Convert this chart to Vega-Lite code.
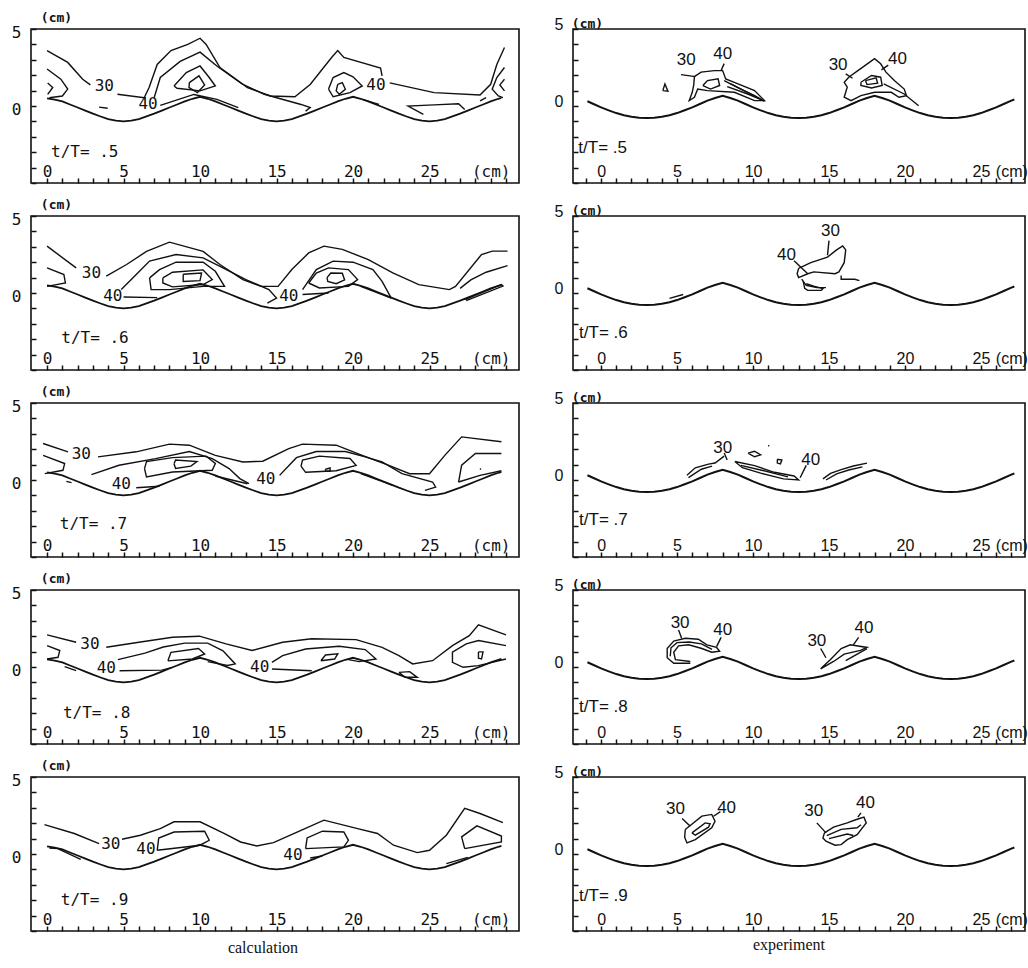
{
"$schema":"https://vega.github.io/schema/vega-lite/v6.json",
"background":"white",
"padding":{"left":10,"top":10,"right":2,"bottom":2},
"bounds":"flush",
"columns":2,
"spacing":{"row":33,"column":54},
"concat":[
 {"width":488,"height":154,
  "encoding":{"x":{"field":"x","type":"quantitative","scale":{"domain":[-1.05,30.85],"nice":false,"zero":false},"axis":{"values":[0,1,2,3,4,5,6,7,8,9,10,11,12,13,14,15,16,17,18,19,20,21,22,23,24,25,26,27,28,29,30],"title":null,"labelExpr":"datum.value%5==0 && datum.value<=25 ? datum.label : (datum.value==29 ? '(cm)' : '')"}},
   "y":{"field":"y","type":"quantitative","scale":{"domain":[-5,5],"nice":false,"zero":false},"axis":{"values":[-5,-4,-3,-2,-1,0,1,2,3,4,5],"labelExpr":"datum.value==5||datum.value==0 ? datum.label : ''","title":"(cm)","titleAngle":0,"titleX":25,"titleY":-12,"titleAlign":"center","titleBaseline":"middle"}}},
  "layer":[
   {"data":{"name":"bedC"},"mark":{"type":"line","strokeWidth":1.8},"encoding":{}},
   {"data":{"name":"c5"},"mark":{"type":"line"},"encoding":{"detail":{"field":"i"},"order":{"value":null}}},
   {"data":{"name":"lab"},"transform":[{"filter":"datum.p=='c5'"}],"mark":{"type":"text","font":"DejaVu Sans Mono","fontSize":16,"align":"center","baseline":"middle"},"encoding":{"text":{"field":"t"}}},
   {"data":{"name":"tt"},"transform":[{"filter":"datum.p=='c5'"}],"mark":{"type":"text","font":"DejaVu Sans Mono","fontSize":16,"align":"left","baseline":"middle"},"encoding":{"text":{"field":"t"}}}
  ]},
 {"width":452,"height":154,
  "encoding":{"x":{"field":"x","type":"quantitative","scale":{"domain":[-1.85,27.9],"nice":false,"zero":false},"axis":{"values":[-1,0,1,2,3,4,5,6,7,8,9,10,11,12,13,14,15,16,17,18,19,20,21,22,23,24,25,26,27],"title":null,"labelFont":"Liberation Sans","labelExpr":"datum.value%5==0 && datum.value>=0 && datum.value<=25 ? datum.label : (datum.value==27 ? '(cm)' : '')"}},
   "y":{"field":"y","type":"quantitative","scale":{"domain":[-5,5],"nice":false,"zero":false},"axis":{"values":[-5,-4,-3,-2,-1,0,1,2,3,4,5],"labelFont":"Liberation Sans","labelOffset":-5,"labelExpr":"datum.value==5||datum.value==0 ? datum.label : ''","title":"(cm)","titleAngle":0,"titleX":14,"titleY":-6,"titleAlign":"center","titleBaseline":"middle"}}},
  "layer":[
   {"data":{"name":"bedE"},"mark":{"type":"line","strokeWidth":2},"encoding":{}},
   {"data":{"name":"e5"},"mark":{"type":"line","strokeWidth":1.4},"encoding":{"detail":{"field":"i"},"order":{"value":null}}},
   {"data":{"name":"lab"},"transform":[{"filter":"datum.p=='e5'"}],"mark":{"type":"text","font":"Liberation Sans","fontSize":17,"align":"center","baseline":"middle"},"encoding":{"text":{"field":"t"}}},
   {"data":{"name":"tt"},"transform":[{"filter":"datum.p=='e5'"}],"mark":{"type":"text","font":"Liberation Sans","fontSize":17,"align":"left","baseline":"middle"},"encoding":{"text":{"field":"t"}}}
  ]},
 {"width":488,"height":154,
  "encoding":{"x":{"field":"x","type":"quantitative","scale":{"domain":[-1.05,30.85],"nice":false,"zero":false},"axis":{"values":[0,1,2,3,4,5,6,7,8,9,10,11,12,13,14,15,16,17,18,19,20,21,22,23,24,25,26,27,28,29,30],"title":null,"labelExpr":"datum.value%5==0 && datum.value<=25 ? datum.label : (datum.value==29 ? '(cm)' : '')"}},
   "y":{"field":"y","type":"quantitative","scale":{"domain":[-5,5],"nice":false,"zero":false},"axis":{"values":[-5,-4,-3,-2,-1,0,1,2,3,4,5],"labelExpr":"datum.value==5||datum.value==0 ? datum.label : ''","title":"(cm)","titleAngle":0,"titleX":25,"titleY":-12,"titleAlign":"center","titleBaseline":"middle"}}},
  "layer":[
   {"data":{"name":"bedC"},"mark":{"type":"line","strokeWidth":1.8},"encoding":{}},
   {"data":{"name":"c6"},"mark":{"type":"line"},"encoding":{"detail":{"field":"i"},"order":{"value":null}}},
   {"data":{"name":"lab"},"transform":[{"filter":"datum.p=='c6'"}],"mark":{"type":"text","font":"DejaVu Sans Mono","fontSize":16,"align":"center","baseline":"middle"},"encoding":{"text":{"field":"t"}}},
   {"data":{"name":"tt"},"transform":[{"filter":"datum.p=='c6'"}],"mark":{"type":"text","font":"DejaVu Sans Mono","fontSize":16,"align":"left","baseline":"middle"},"encoding":{"text":{"field":"t"}}}
  ]},
 {"width":452,"height":154,
  "encoding":{"x":{"field":"x","type":"quantitative","scale":{"domain":[-1.85,27.9],"nice":false,"zero":false},"axis":{"values":[-1,0,1,2,3,4,5,6,7,8,9,10,11,12,13,14,15,16,17,18,19,20,21,22,23,24,25,26,27],"title":null,"labelFont":"Liberation Sans","labelExpr":"datum.value%5==0 && datum.value>=0 && datum.value<=25 ? datum.label : (datum.value==27 ? '(cm)' : '')"}},
   "y":{"field":"y","type":"quantitative","scale":{"domain":[-5,5],"nice":false,"zero":false},"axis":{"values":[-5,-4,-3,-2,-1,0,1,2,3,4,5],"labelFont":"Liberation Sans","labelOffset":-5,"labelExpr":"datum.value==5||datum.value==0 ? datum.label : ''","title":"(cm)","titleAngle":0,"titleX":14,"titleY":-6,"titleAlign":"center","titleBaseline":"middle"}}},
  "layer":[
   {"data":{"name":"bedE"},"mark":{"type":"line","strokeWidth":2},"encoding":{}},
   {"data":{"name":"e6"},"mark":{"type":"line","strokeWidth":1.4},"encoding":{"detail":{"field":"i"},"order":{"value":null}}},
   {"data":{"name":"lab"},"transform":[{"filter":"datum.p=='e6'"}],"mark":{"type":"text","font":"Liberation Sans","fontSize":17,"align":"center","baseline":"middle"},"encoding":{"text":{"field":"t"}}},
   {"data":{"name":"tt"},"transform":[{"filter":"datum.p=='e6'"}],"mark":{"type":"text","font":"Liberation Sans","fontSize":17,"align":"left","baseline":"middle"},"encoding":{"text":{"field":"t"}}}
  ]},
 {"width":488,"height":154,
  "encoding":{"x":{"field":"x","type":"quantitative","scale":{"domain":[-1.05,30.85],"nice":false,"zero":false},"axis":{"values":[0,1,2,3,4,5,6,7,8,9,10,11,12,13,14,15,16,17,18,19,20,21,22,23,24,25,26,27,28,29,30],"title":null,"labelExpr":"datum.value%5==0 && datum.value<=25 ? datum.label : (datum.value==29 ? '(cm)' : '')"}},
   "y":{"field":"y","type":"quantitative","scale":{"domain":[-5,5],"nice":false,"zero":false},"axis":{"values":[-5,-4,-3,-2,-1,0,1,2,3,4,5],"labelExpr":"datum.value==5||datum.value==0 ? datum.label : ''","title":"(cm)","titleAngle":0,"titleX":25,"titleY":-12,"titleAlign":"center","titleBaseline":"middle"}}},
  "layer":[
   {"data":{"name":"bedC"},"mark":{"type":"line","strokeWidth":1.8},"encoding":{}},
   {"data":{"name":"c7"},"mark":{"type":"line"},"encoding":{"detail":{"field":"i"},"order":{"value":null}}},
   {"data":{"name":"lab"},"transform":[{"filter":"datum.p=='c7'"}],"mark":{"type":"text","font":"DejaVu Sans Mono","fontSize":16,"align":"center","baseline":"middle"},"encoding":{"text":{"field":"t"}}},
   {"data":{"name":"tt"},"transform":[{"filter":"datum.p=='c7'"}],"mark":{"type":"text","font":"DejaVu Sans Mono","fontSize":16,"align":"left","baseline":"middle"},"encoding":{"text":{"field":"t"}}}
  ]},
 {"width":452,"height":154,
  "encoding":{"x":{"field":"x","type":"quantitative","scale":{"domain":[-1.85,27.9],"nice":false,"zero":false},"axis":{"values":[-1,0,1,2,3,4,5,6,7,8,9,10,11,12,13,14,15,16,17,18,19,20,21,22,23,24,25,26,27],"title":null,"labelFont":"Liberation Sans","labelExpr":"datum.value%5==0 && datum.value>=0 && datum.value<=25 ? datum.label : (datum.value==27 ? '(cm)' : '')"}},
   "y":{"field":"y","type":"quantitative","scale":{"domain":[-5,5],"nice":false,"zero":false},"axis":{"values":[-5,-4,-3,-2,-1,0,1,2,3,4,5],"labelFont":"Liberation Sans","labelOffset":-5,"labelExpr":"datum.value==5||datum.value==0 ? datum.label : ''","title":"(cm)","titleAngle":0,"titleX":14,"titleY":-6,"titleAlign":"center","titleBaseline":"middle"}}},
  "layer":[
   {"data":{"name":"bedE"},"mark":{"type":"line","strokeWidth":2},"encoding":{}},
   {"data":{"name":"e7"},"mark":{"type":"line","strokeWidth":1.4},"encoding":{"detail":{"field":"i"},"order":{"value":null}}},
   {"data":{"name":"lab"},"transform":[{"filter":"datum.p=='e7'"}],"mark":{"type":"text","font":"Liberation Sans","fontSize":17,"align":"center","baseline":"middle"},"encoding":{"text":{"field":"t"}}},
   {"data":{"name":"tt"},"transform":[{"filter":"datum.p=='e7'"}],"mark":{"type":"text","font":"Liberation Sans","fontSize":17,"align":"left","baseline":"middle"},"encoding":{"text":{"field":"t"}}}
  ]},
 {"width":488,"height":154,
  "encoding":{"x":{"field":"x","type":"quantitative","scale":{"domain":[-1.05,30.85],"nice":false,"zero":false},"axis":{"values":[0,1,2,3,4,5,6,7,8,9,10,11,12,13,14,15,16,17,18,19,20,21,22,23,24,25,26,27,28,29,30],"title":null,"labelExpr":"datum.value%5==0 && datum.value<=25 ? datum.label : (datum.value==29 ? '(cm)' : '')"}},
   "y":{"field":"y","type":"quantitative","scale":{"domain":[-5,5],"nice":false,"zero":false},"axis":{"values":[-5,-4,-3,-2,-1,0,1,2,3,4,5],"labelExpr":"datum.value==5||datum.value==0 ? datum.label : ''","title":"(cm)","titleAngle":0,"titleX":25,"titleY":-12,"titleAlign":"center","titleBaseline":"middle"}}},
  "layer":[
   {"data":{"name":"bedC"},"mark":{"type":"line","strokeWidth":1.8},"encoding":{}},
   {"data":{"name":"c8"},"mark":{"type":"line"},"encoding":{"detail":{"field":"i"},"order":{"value":null}}},
   {"data":{"name":"lab"},"transform":[{"filter":"datum.p=='c8'"}],"mark":{"type":"text","font":"DejaVu Sans Mono","fontSize":16,"align":"center","baseline":"middle"},"encoding":{"text":{"field":"t"}}},
   {"data":{"name":"tt"},"transform":[{"filter":"datum.p=='c8'"}],"mark":{"type":"text","font":"DejaVu Sans Mono","fontSize":16,"align":"left","baseline":"middle"},"encoding":{"text":{"field":"t"}}}
  ]},
 {"width":452,"height":154,
  "encoding":{"x":{"field":"x","type":"quantitative","scale":{"domain":[-1.85,27.9],"nice":false,"zero":false},"axis":{"values":[-1,0,1,2,3,4,5,6,7,8,9,10,11,12,13,14,15,16,17,18,19,20,21,22,23,24,25,26,27],"title":null,"labelFont":"Liberation Sans","labelExpr":"datum.value%5==0 && datum.value>=0 && datum.value<=25 ? datum.label : (datum.value==27 ? '(cm)' : '')"}},
   "y":{"field":"y","type":"quantitative","scale":{"domain":[-5,5],"nice":false,"zero":false},"axis":{"values":[-5,-4,-3,-2,-1,0,1,2,3,4,5],"labelFont":"Liberation Sans","labelOffset":-5,"labelExpr":"datum.value==5||datum.value==0 ? datum.label : ''","title":"(cm)","titleAngle":0,"titleX":14,"titleY":-6,"titleAlign":"center","titleBaseline":"middle"}}},
  "layer":[
   {"data":{"name":"bedE"},"mark":{"type":"line","strokeWidth":2},"encoding":{}},
   {"data":{"name":"e8"},"mark":{"type":"line","strokeWidth":1.4},"encoding":{"detail":{"field":"i"},"order":{"value":null}}},
   {"data":{"name":"lab"},"transform":[{"filter":"datum.p=='e8'"}],"mark":{"type":"text","font":"Liberation Sans","fontSize":17,"align":"center","baseline":"middle"},"encoding":{"text":{"field":"t"}}},
   {"data":{"name":"tt"},"transform":[{"filter":"datum.p=='e8'"}],"mark":{"type":"text","font":"Liberation Sans","fontSize":17,"align":"left","baseline":"middle"},"encoding":{"text":{"field":"t"}}}
  ]},
 {"width":488,"height":154,
  "title":{"text":"calculation","orient":"bottom","anchor":"middle","font":"Liberation Serif","fontSize":16,"fontWeight":"normal","color":"#111","offset":-2,"dx":-12},
  "encoding":{"x":{"field":"x","type":"quantitative","scale":{"domain":[-1.05,30.85],"nice":false,"zero":false},"axis":{"values":[0,1,2,3,4,5,6,7,8,9,10,11,12,13,14,15,16,17,18,19,20,21,22,23,24,25,26,27,28,29,30],"title":null,"labelExpr":"datum.value%5==0 && datum.value<=25 ? datum.label : (datum.value==29 ? '(cm)' : '')"}},
   "y":{"field":"y","type":"quantitative","scale":{"domain":[-5,5],"nice":false,"zero":false},"axis":{"values":[-5,-4,-3,-2,-1,0,1,2,3,4,5],"labelExpr":"datum.value==5||datum.value==0 ? datum.label : ''","title":"(cm)","titleAngle":0,"titleX":25,"titleY":-12,"titleAlign":"center","titleBaseline":"middle"}}},
  "layer":[
   {"data":{"name":"bedC"},"mark":{"type":"line","strokeWidth":1.8},"encoding":{}},
   {"data":{"name":"c9"},"mark":{"type":"line"},"encoding":{"detail":{"field":"i"},"order":{"value":null}}},
   {"data":{"name":"lab"},"transform":[{"filter":"datum.p=='c9'"}],"mark":{"type":"text","font":"DejaVu Sans Mono","fontSize":16,"align":"center","baseline":"middle"},"encoding":{"text":{"field":"t"}}},
   {"data":{"name":"tt"},"transform":[{"filter":"datum.p=='c9'"}],"mark":{"type":"text","font":"DejaVu Sans Mono","fontSize":16,"align":"left","baseline":"middle"},"encoding":{"text":{"field":"t"}}}
  ]},
 {"width":452,"height":154,
  "title":{"text":"experiment","orient":"bottom","anchor":"middle","font":"Liberation Serif","fontSize":16,"fontWeight":"normal","color":"#111","offset":3,"dx":-10},
  "encoding":{"x":{"field":"x","type":"quantitative","scale":{"domain":[-1.85,27.9],"nice":false,"zero":false},"axis":{"values":[-1,0,1,2,3,4,5,6,7,8,9,10,11,12,13,14,15,16,17,18,19,20,21,22,23,24,25,26,27],"title":null,"labelFont":"Liberation Sans","labelExpr":"datum.value%5==0 && datum.value>=0 && datum.value<=25 ? datum.label : (datum.value==27 ? '(cm)' : '')"}},
   "y":{"field":"y","type":"quantitative","scale":{"domain":[-5,5],"nice":false,"zero":false},"axis":{"values":[-5,-4,-3,-2,-1,0,1,2,3,4,5],"labelFont":"Liberation Sans","labelOffset":-5,"labelExpr":"datum.value==5||datum.value==0 ? datum.label : ''","title":"(cm)","titleAngle":0,"titleX":14,"titleY":-6,"titleAlign":"center","titleBaseline":"middle"}}},
  "layer":[
   {"data":{"name":"bedE"},"mark":{"type":"line","strokeWidth":2},"encoding":{}},
   {"data":{"name":"e9"},"mark":{"type":"line","strokeWidth":1.4},"encoding":{"detail":{"field":"i"},"order":{"value":null}}},
   {"data":{"name":"lab"},"transform":[{"filter":"datum.p=='e9'"}],"mark":{"type":"text","font":"Liberation Sans","fontSize":17,"align":"center","baseline":"middle"},"encoding":{"text":{"field":"t"}}},
   {"data":{"name":"tt"},"transform":[{"filter":"datum.p=='e9'"}],"mark":{"type":"text","font":"Liberation Sans","fontSize":17,"align":"left","baseline":"middle"},"encoding":{"text":{"field":"t"}}}
  ]}
],
"config":{
 "view":{"stroke":"#111","strokeWidth":1.6},
 "axis":{"grid":false,"domain":false,"ticks":true,"tickSize":-5,"tickColor":"#111","tickWidth":1.5,"labelColor":"#111","labelFont":"DejaVu Sans Mono","labelFontSize":16,"labelOverlap":false,"labelFlush":false,"titleFont":"DejaVu Sans Mono","titleFontSize":13,"titleFontWeight":"bold","titleColor":"#111"},
 "axisX":{"labelPadding":-15},
 "axisY":{"labelPadding":15,"labelOffset":3},
 "line":{"color":"#111","strokeWidth":1.4},
 "text":{"color":"#111"}
},
"datasets":{
"bedC":[{"x":0,"y":0.5},{"x":0.5,"y":0.42},{"x":1,"y":0.3},{"x":1.5,"y":0.1},{"x":2,"y":-0.1},{"x":2.5,"y":-0.3},{"x":3,"y":-0.5},{"x":3.5,"y":-0.68},{"x":4,"y":-0.85},{"x":4.5,"y":-0.95},{"x":5,"y":-1},{"x":5.5,"y":-0.95},{"x":6,"y":-0.85},{"x":6.5,"y":-0.68},{"x":7,"y":-0.5},{"x":7.5,"y":-0.3},{"x":8,"y":-0.1},{"x":8.5,"y":0.1},{"x":9,"y":0.3},{"x":9.5,"y":0.47},{"x":10,"y":0.6},{"x":10.5,"y":0.47},{"x":11,"y":0.3},{"x":11.5,"y":0.1},{"x":12,"y":-0.1},{"x":12.5,"y":-0.3},{"x":13,"y":-0.5},{"x":13.5,"y":-0.68},{"x":14,"y":-0.85},{"x":14.5,"y":-0.95},{"x":15,"y":-1},{"x":15.5,"y":-0.95},{"x":16,"y":-0.85},{"x":16.5,"y":-0.68},{"x":17,"y":-0.5},{"x":17.5,"y":-0.3},{"x":18,"y":-0.1},{"x":18.5,"y":0.1},{"x":19,"y":0.3},{"x":19.5,"y":0.47},{"x":20,"y":0.6},{"x":20.5,"y":0.47},{"x":21,"y":0.3},{"x":21.5,"y":0.1},{"x":22,"y":-0.1},{"x":22.5,"y":-0.3},{"x":23,"y":-0.5},{"x":23.5,"y":-0.68},{"x":24,"y":-0.85},{"x":24.5,"y":-0.95},{"x":25,"y":-1},{"x":25.5,"y":-0.95},{"x":26,"y":-0.85},{"x":26.5,"y":-0.68},{"x":27,"y":-0.5},{"x":27.5,"y":-0.3},{"x":28,"y":-0.1},{"x":28.5,"y":0.1},{"x":29,"y":0.3},{"x":29.5,"y":0.47},{"x":29.7,"y":0.52}],
"bedE":[{"x":-0.9,"y":0.31},{"x":-0.5,"y":0.13},{"x":0,"y":-0.09},{"x":0.5,"y":-0.28},{"x":1,"y":-0.46},{"x":1.5,"y":-0.6},{"x":2,"y":-0.7},{"x":2.5,"y":-0.76},{"x":3,"y":-0.78},{"x":3.5,"y":-0.76},{"x":4,"y":-0.7},{"x":4.5,"y":-0.6},{"x":5,"y":-0.46},{"x":5.5,"y":-0.28},{"x":6,"y":-0.09},{"x":6.5,"y":0.13},{"x":7,"y":0.35},{"x":7.5,"y":0.52},{"x":8,"y":0.67},{"x":8.5,"y":0.52},{"x":9,"y":0.35},{"x":9.5,"y":0.13},{"x":10,"y":-0.09},{"x":10.5,"y":-0.28},{"x":11,"y":-0.46},{"x":11.5,"y":-0.6},{"x":12,"y":-0.7},{"x":12.5,"y":-0.76},{"x":13,"y":-0.78},{"x":13.5,"y":-0.76},{"x":14,"y":-0.7},{"x":14.5,"y":-0.6},{"x":15,"y":-0.46},{"x":15.5,"y":-0.28},{"x":16,"y":-0.09},{"x":16.5,"y":0.13},{"x":17,"y":0.35},{"x":17.5,"y":0.52},{"x":18,"y":0.67},{"x":18.5,"y":0.52},{"x":19,"y":0.35},{"x":19.5,"y":0.13},{"x":20,"y":-0.09},{"x":20.5,"y":-0.28},{"x":21,"y":-0.46},{"x":21.5,"y":-0.6},{"x":22,"y":-0.7},{"x":22.5,"y":-0.76},{"x":23,"y":-0.78},{"x":23.5,"y":-0.76},{"x":24,"y":-0.7},{"x":24.5,"y":-0.6},{"x":25,"y":-0.46},{"x":25.5,"y":-0.28},{"x":26,"y":-0.09},{"x":26.5,"y":0.13},{"x":27,"y":0.35},{"x":27.2,"y":0.42}],
"c5":[
{"i":1,"x":0,"y":3.6},{"i":1,"x":1.35,"y":2.83},{"i":1,"x":2.33,"y":1.74},{"i":1,"x":2.83,"y":1.37},
{"i":2,"x":4.6,"y":0.76},{"i":2,"x":6.35,"y":0.54},{"i":2,"x":6.67,"y":1.2},{"i":2,"x":7.2,"y":2.7},{"i":2,"x":8.1,"y":3.6},{"i":2,"x":9.2,"y":4.0},{"i":2,"x":10,"y":4.4},{"i":2,"x":10.4,"y":4.0},{"i":2,"x":11.3,"y":2.5},{"i":2,"x":13.1,"y":1.2},{"i":2,"x":14.6,"y":0.65},{"i":2,"x":16.2,"y":0.6},{"i":2,"x":17.2,"y":1.4},{"i":2,"x":18.6,"y":3.15},{"i":2,"x":19.0,"y":3.6},{"i":2,"x":19.4,"y":3.15},{"i":2,"x":21.8,"y":2.46},{"i":2,"x":21.9,"y":1.95},
{"i":3,"x":22.4,"y":1.5},{"i":3,"x":25.3,"y":0.87},{"i":3,"x":28.3,"y":0.72},{"i":3,"x":29,"y":1.41},{"i":3,"x":29.4,"y":2.7},{"i":3,"x":29.9,"y":3.8},
{"i":4,"x":0,"y":2.4},{"i":4,"x":0.9,"y":1.74},{"i":4,"x":1.35,"y":1.1},{"i":4,"x":1.0,"y":0.65},{"i":4,"x":0.15,"y":0.54},
{"i":5,"x":0.04,"y":1.5},{"i":5,"x":0.37,"y":1.2},{"i":5,"x":0.04,"y":0.76},
{"i":6,"x":3.4,"y":-0.07},{"i":6,"x":3.96,"y":-0.15},
{"i":7,"x":7.4,"y":0.04},{"i":7,"x":9.6,"y":0.75},{"i":7,"x":11.1,"y":0.43},{"i":7,"x":12.5,"y":-0.1},
{"i":8,"x":7.0,"y":0.54},{"i":8,"x":7.4,"y":1.85},{"i":8,"x":8.7,"y":2.9},{"i":8,"x":10.0,"y":3.5},{"i":8,"x":11.1,"y":2.6},{"i":8,"x":12.7,"y":1.46},{"i":8,"x":14.2,"y":0.76},{"i":8,"x":16.6,"y":0.1},{"i":8,"x":17.2,"y":-0.1},{"i":8,"x":16.9,"y":-0.33},
{"i":9,"x":8.3,"y":1.3},{"i":9,"x":9.1,"y":2.17},{"i":9,"x":10,"y":2.6},{"i":9,"x":10.6,"y":1.85},{"i":9,"x":11,"y":1.3},{"i":9,"x":10,"y":0.98},{"i":9,"x":8.5,"y":1.15},{"i":9,"x":8.3,"y":1.3},
{"i":10,"x":9.3,"y":1.52},{"i":10,"x":9.93,"y":1.96},{"i":10,"x":10.3,"y":1.37},{"i":10,"x":9.83,"y":0.87},{"i":10,"x":9.28,"y":1.2},{"i":10,"x":9.3,"y":1.52},
{"i":11,"x":18.4,"y":1.1},{"i":11,"x":18.7,"y":1.85},{"i":11,"x":19.4,"y":2.17},{"i":11,"x":20.0,"y":1.9},{"i":11,"x":20.6,"y":1.3},{"i":11,"x":19.8,"y":0.87},{"i":11,"x":18.7,"y":0.6},{"i":11,"x":18.4,"y":1.1},
{"i":12,"x":19,"y":1.41},{"i":12,"x":19.3,"y":1.52},{"i":12,"x":19.5,"y":1.09},{"i":12,"x":19.1,"y":0.76},{"i":12,"x":18.9,"y":0.98},{"i":12,"x":19,"y":1.41},
{"i":13,"x":20.6,"y":0.43},{"i":13,"x":21.7,"y":0.1},
{"i":14,"x":24.6,"y":-0.54},{"i":14,"x":23.6,"y":0},{"i":14,"x":25.3,"y":0.07},{"i":14,"x":26.9,"y":0.15},{"i":14,"x":27.3,"y":-0.22},
{"i":15,"x":28.3,"y":0.33},{"i":15,"x":28.7,"y":0.54},
{"i":16,"x":29.9,"y":2.5},{"i":16,"x":29.4,"y":1.85},{"i":16,"x":29.1,"y":1.09},{"i":16,"x":29.5,"y":0.65},{"i":16,"x":29.8,"y":0.54},
{"i":17,"x":29.9,"y":1.74},{"i":17,"x":29.6,"y":1.37},{"i":17,"x":29.9,"y":0.98}
],
"c6":[
{"i":1,"x":0,"y":3.04},{"i":1,"x":1.9,"y":1.63},
{"i":2,"x":3.87,"y":1.09},{"i":2,"x":5.2,"y":1.85},{"i":2,"x":6.5,"y":2.7},{"i":2,"x":8,"y":3.3},{"i":2,"x":10.2,"y":2.7},{"i":2,"x":11.3,"y":1.85},{"i":2,"x":12.8,"y":0.87},{"i":2,"x":14,"y":0.43},{"i":2,"x":15.1,"y":0.43},{"i":2,"x":16,"y":1.52},{"i":2,"x":17.1,"y":2.6},{"i":2,"x":18.1,"y":3.04},{"i":2,"x":19.3,"y":2.83},{"i":2,"x":21,"y":2.17},{"i":2,"x":22.6,"y":1.3},{"i":2,"x":24.3,"y":0.54},{"i":2,"x":26.3,"y":0.22},{"i":2,"x":26.7,"y":0.43},{"i":2,"x":28.4,"y":2.5},{"i":2,"x":29.1,"y":2.72},{"i":2,"x":30.1,"y":2.72},
{"i":3,"x":0,"y":1.63},{"i":3,"x":1.1,"y":1.2},{"i":3,"x":1.2,"y":0.65},{"i":3,"x":0,"y":0.43},
{"i":4,"x":5.0,"y":-0.26},{"i":4,"x":7.2,"y":-0.3},
{"i":5,"x":4.85,"y":0.22},{"i":5,"x":5.83,"y":1.2},{"i":5,"x":6.7,"y":2.07},{"i":5,"x":8.43,"y":2.5},{"i":5,"x":10.2,"y":2.28},{"i":5,"x":11.5,"y":1.63},{"i":5,"x":13,"y":0.87},{"i":5,"x":14.5,"y":0.22},{"i":5,"x":15,"y":-0.33},{"i":5,"x":14.4,"y":-0.65},
{"i":6,"x":6.7,"y":0.98},{"i":6,"x":7.35,"y":1.52},{"i":6,"x":8.43,"y":2.0},{"i":6,"x":10.2,"y":2.0},{"i":6,"x":11,"y":1.41},{"i":6,"x":11.6,"y":0.43},{"i":6,"x":10.2,"y":0.43},{"i":6,"x":8,"y":0.22},{"i":6,"x":6.8,"y":0.22},{"i":6,"x":6.7,"y":0.98},
{"i":7,"x":7.57,"y":0.98},{"i":7,"x":8.2,"y":1.35},{"i":7,"x":10.2,"y":1.5},{"i":7,"x":10.8,"y":0.87},{"i":7,"x":10.2,"y":0.55},{"i":7,"x":8.2,"y":0.4},{"i":7,"x":7.57,"y":0.65},{"i":7,"x":7.57,"y":0.98},
{"i":8,"x":8.9,"y":1.22},{"i":8,"x":10.1,"y":1.3},{"i":8,"x":10.0,"y":0.8},{"i":8,"x":8.9,"y":0.75},{"i":8,"x":8.9,"y":1.22},
{"i":9,"x":16.7,"y":0.22},{"i":9,"x":17.6,"y":1.52},{"i":9,"x":18.7,"y":2.07},{"i":9,"x":20,"y":2.0},{"i":9,"x":21.3,"y":1.52},{"i":9,"x":21.9,"y":0.76},{"i":9,"x":22.5,"y":-0.33},
{"i":10,"x":17.1,"y":0.65},{"i":10,"x":17.6,"y":1.3},{"i":10,"x":18.4,"y":1.63},{"i":10,"x":19.7,"y":1.52},{"i":10,"x":20.3,"y":0.87},{"i":10,"x":19.7,"y":0.43},{"i":10,"x":17.8,"y":0.33},{"i":10,"x":17.1,"y":0.65},
{"i":11,"x":18.3,"y":1.0},{"i":11,"x":18.55,"y":1.3},{"i":11,"x":19.3,"y":1.28},{"i":11,"x":19.45,"y":0.85},{"i":11,"x":18.9,"y":0.6},{"i":11,"x":18.35,"y":0.75},{"i":11,"x":18.3,"y":1.0},
{"i":12,"x":20.5,"y":0.43},{"i":12,"x":22.5,"y":-0.33},
{"i":13,"x":16.7,"y":-0.1},{"i":13,"x":18.4,"y":0},
{"i":14,"x":27.3,"y":-0.43},{"i":14,"x":29.7,"y":0.54},{"i":14,"x":29.8,"y":0.45},{"i":14,"x":27.4,"y":-0.5},
{"i":15,"x":30.1,"y":1.78},{"i":15,"x":28.7,"y":1.35},{"i":15,"x":27.7,"y":0.85},{"i":15,"x":27.0,"y":0.3}
],
"c7":[
{"i":1,"x":-0.26,"y":2.37},{"i":1,"x":1.37,"y":1.83},
{"i":2,"x":3.33,"y":1.5},{"i":2,"x":5.83,"y":1.83},{"i":2,"x":8,"y":2.33},{"i":2,"x":9.3,"y":2.26},{"i":2,"x":11,"y":1.6},{"i":2,"x":12.8,"y":1.17},{"i":2,"x":14.1,"y":1.22},{"i":2,"x":15.8,"y":2.04},{"i":2,"x":16.7,"y":2.33},{"i":2,"x":18.9,"y":2.26},{"i":2,"x":20.6,"y":1.6},{"i":2,"x":22.3,"y":0.96},{"i":2,"x":23.7,"y":0.41},{"i":2,"x":25,"y":0.41},{"i":2,"x":26,"y":1.6},{"i":2,"x":27.1,"y":2.8},{"i":2,"x":29.7,"y":2.48},
{"i":3,"x":-0.26,"y":1.6},{"i":3,"x":1.15,"y":1.07},{"i":3,"x":1.04,"y":0.63},{"i":3,"x":-0.15,"y":0.41},
{"i":4,"x":1.26,"y":-0.09},{"i":4,"x":1.6,"y":-0.17},
{"i":5,"x":2.9,"y":0.35},{"i":5,"x":4.7,"y":0.96},{"i":5,"x":7.1,"y":1.39},{"i":5,"x":9.3,"y":1.85},{"i":5,"x":10.8,"y":1.39},{"i":5,"x":11.9,"y":0.74},{"i":5,"x":12.6,"y":0.09},{"i":5,"x":13.2,"y":-0.24},
{"i":6,"x":5.83,"y":-0.5},{"i":6,"x":7.35,"y":-0.41},
{"i":7,"x":6.37,"y":0.74},{"i":7,"x":6.5,"y":1.2},{"i":7,"x":8.2,"y":1.45},{"i":7,"x":10.4,"y":1.55},{"i":7,"x":11.0,"y":1.07},{"i":7,"x":10.8,"y":0.63},{"i":7,"x":8.2,"y":0.52},{"i":7,"x":6.5,"y":0.2},{"i":7,"x":6.37,"y":0.74},
{"i":8,"x":8.3,"y":1.05},{"i":8,"x":8.4,"y":1.3},{"i":8,"x":9.8,"y":1.2},{"i":8,"x":9.4,"y":0.9},{"i":8,"x":8.4,"y":0.75},{"i":8,"x":8.3,"y":1.05},
{"i":9,"x":11,"y":0.26},{"i":9,"x":13.1,"y":-0.24},
{"i":10,"x":16.6,"y":0.9},{"i":10,"x":16.7,"y":1.3},{"i":10,"x":17.8,"y":1.55},{"i":10,"x":19.8,"y":1.4},{"i":10,"x":20.2,"y":0.95},{"i":10,"x":18.9,"y":0.6},{"i":10,"x":16.9,"y":0.5},{"i":10,"x":16.6,"y":0.9},
{"i":11,"x":15.2,"y":0.3},{"i":11,"x":16.3,"y":1.45},{"i":11,"x":17.6,"y":1.85},{"i":11,"x":19.5,"y":1.85},{"i":11,"x":20.8,"y":1.5},{"i":11,"x":21.9,"y":1.17},{"i":11,"x":23.2,"y":0.41},{"i":11,"x":25.2,"y":-0.13},{"i":11,"x":25.4,"y":-0.46},{"i":11,"x":24.7,"y":-0.67},
{"i":12,"x":18.2,"y":0.7},{"i":12,"x":18.5,"y":0.78},{"i":12,"x":18.5,"y":0.57},{"i":12,"x":18.2,"y":0.57},{"i":12,"x":18.2,"y":0.7},
{"i":14,"x":20.5,"y":0.41},{"i":14,"x":22.6,"y":-0.35},
{"i":15,"x":26.9,"y":-0.13},{"i":15,"x":27.1,"y":0.96},{"i":15,"x":28,"y":1.72},{"i":15,"x":29.7,"y":1.72},
{"i":16,"x":26.9,"y":-0.13},{"i":16,"x":28.3,"y":0.3},{"i":16,"x":29.7,"y":0.6},
{"i":17,"x":28.3,"y":0.74},{"i":17,"x":28.36,"y":0.68}
],
"c8":[
{"i":1,"x":0,"y":2.09},{"i":1,"x":1.9,"y":1.61},
{"i":2,"x":3.87,"y":1.28},{"i":2,"x":6,"y":1.61},{"i":2,"x":8.2,"y":1.93},{"i":2,"x":9.96,"y":2},{"i":2,"x":11.7,"y":1.5},{"i":2,"x":13.4,"y":1.07},{"i":2,"x":15.4,"y":1.61},{"i":2,"x":17.3,"y":1.83},{"i":2,"x":20.2,"y":1.78},{"i":2,"x":21.9,"y":1.28},{"i":2,"x":23,"y":0.74},{"i":2,"x":23.9,"y":0.2},{"i":2,"x":25.2,"y":0.41},{"i":2,"x":26.5,"y":1.39},{"i":2,"x":27.6,"y":2.04},{"i":2,"x":28.2,"y":2.74},{"i":2,"x":30,"y":2.09},
{"i":3,"x":0,"y":1.39},{"i":3,"x":0.83,"y":1.07},{"i":3,"x":0.72,"y":0.63},{"i":3,"x":0,"y":0.52},
{"i":4,"x":1.15,"y":0.02},{"i":4,"x":1.9,"y":-0.24},
{"i":5,"x":4.63,"y":0.48},{"i":5,"x":6.4,"y":0.9},{"i":5,"x":7.6,"y":1.3},{"i":5,"x":9,"y":1.55},{"i":5,"x":10.5,"y":1.55},{"i":5,"x":11.5,"y":1.05},{"i":5,"x":12.3,"y":0.2},{"i":5,"x":11.8,"y":0.1},{"i":5,"x":10.5,"y":0.35},
{"i":6,"x":4.74,"y":-0.24},{"i":6,"x":7.5,"y":-0.2},{"i":6,"x":8.2,"y":-0.02},
{"i":7,"x":7.9,"y":0.4},{"i":7,"x":8.1,"y":0.95},{"i":7,"x":9.9,"y":1.2},{"i":7,"x":10.3,"y":0.85},{"i":7,"x":9.5,"y":0.52},{"i":7,"x":7.9,"y":0.4},
{"i":8,"x":14.7,"y":0.3},{"i":8,"x":15.4,"y":0.74},{"i":8,"x":16.9,"y":1.17},{"i":8,"x":19.1,"y":1.35},{"i":8,"x":20.8,"y":1.13},{"i":8,"x":21.5,"y":0.52},{"i":8,"x":20.4,"y":0.35},{"i":8,"x":19.7,"y":0.48},
{"i":9,"x":14.7,"y":-0.13},{"i":9,"x":17.3,"y":-0.24},
{"i":10,"x":17.9,"y":0.41},{"i":10,"x":18.2,"y":0.78},{"i":10,"x":19,"y":0.85},{"i":10,"x":18.8,"y":0.52},{"i":10,"x":17.9,"y":0.41},
{"i":11,"x":23,"y":-0.35},{"i":11,"x":23.7,"y":-0.3},{"i":11,"x":24.2,"y":-0.67},{"i":11,"x":23.4,"y":-0.67},{"i":11,"x":23,"y":-0.35},
{"i":12,"x":30,"y":1.39},{"i":12,"x":28.2,"y":1.72},{"i":12,"x":27.4,"y":1.5},{"i":12,"x":26.5,"y":0.96},{"i":12,"x":26.5,"y":0.3},{"i":12,"x":27.2,"y":-0.02},{"i":12,"x":28.2,"y":0.09},{"i":12,"x":30,"y":0.52},
{"i":13,"x":28.2,"y":0.98},{"i":13,"x":28.5,"y":0.98},{"i":13,"x":28.4,"y":0.52},{"i":13,"x":28.2,"y":0.57},{"i":13,"x":28.2,"y":0.98}
],
"c9":[
{"i":1,"x":-0.17,"y":1.91},{"i":1,"x":1.78,"y":1.33},{"i":1,"x":3.4,"y":0.67},
{"i":2,"x":4.9,"y":0.96},{"i":2,"x":6.1,"y":1.22},{"i":2,"x":7.4,"y":1.65},{"i":2,"x":8.3,"y":2.09},{"i":2,"x":10,"y":2.09},{"i":2,"x":11.6,"y":1.33},{"i":2,"x":12.65,"y":0.78},{"i":2,"x":13.7,"y":0.52},{"i":2,"x":14.8,"y":0.74},{"i":2,"x":16.6,"y":1.54},{"i":2,"x":18.1,"y":2.2},{"i":2,"x":20.3,"y":1.65},{"i":2,"x":21.6,"y":1.33},{"i":2,"x":22.65,"y":0.57},{"i":2,"x":24.2,"y":0.09},{"i":2,"x":25,"y":0.24},{"i":2,"x":26.1,"y":1.22},{"i":2,"x":27.3,"y":2.96},{"i":2,"x":28.3,"y":2.63},{"i":2,"x":29.8,"y":2.04},
{"i":3,"x":7.2,"y":0.24},{"i":3,"x":7.3,"y":1.04},{"i":3,"x":8.3,"y":1.43},{"i":3,"x":10.3,"y":1.48},{"i":3,"x":10.6,"y":0.89},{"i":3,"x":10,"y":0.57},{"i":3,"x":7.2,"y":0.24},
{"i":4,"x":16.9,"y":0.35},{"i":4,"x":17,"y":1.04},{"i":4,"x":18,"y":1.48},{"i":4,"x":19.4,"y":1.43},{"i":4,"x":19.7,"y":0.89},{"i":4,"x":19.4,"y":0.46},{"i":4,"x":16.9,"y":0.35},
{"i":5,"x":27.3,"y":0.35},{"i":5,"x":27.1,"y":1.11},{"i":5,"x":28.1,"y":1.83},{"i":5,"x":29.7,"y":1.17},{"i":5,"x":29.7,"y":0.78},{"i":5,"x":27.3,"y":0.35},
{"i":6,"x":0.15,"y":0.39},{"i":6,"x":0.7,"y":0.35},{"i":6,"x":2.2,"y":-0.35},
{"i":7,"x":17.2,"y":-0.26},{"i":7,"x":18,"y":-0.13},
{"i":8,"x":26.1,"y":-0.63},{"i":8,"x":27.5,"y":-0.22}
],
"e5":[
{"i":1,"x":6.14,"y":1.91},{"i":1,"x":6.58,"y":2.2},{"i":1,"x":7.46,"y":2.3},{"i":1,"x":8.0,"y":2.3},{"i":1,"x":8.2,"y":1.76},{"i":1,"x":8.77,"y":1.54},{"i":1,"x":10.1,"y":1.0},{"i":1,"x":10.75,"y":0.35},{"i":1,"x":10.1,"y":0.35},{"i":1,"x":8.77,"y":0.89},{"i":1,"x":7.0,"y":1.0},{"i":1,"x":6.36,"y":1.1},{"i":1,"x":6.14,"y":0.57},{"i":1,"x":5.8,"y":0.35},{"i":1,"x":6.0,"y":0.89},{"i":1,"x":6.1,"y":1.39},{"i":1,"x":6.14,"y":1.91},
{"i":2,"x":6.7,"y":1.33},{"i":2,"x":7.0,"y":1.65},{"i":2,"x":7.7,"y":1.76},{"i":2,"x":7.8,"y":1.33},{"i":2,"x":7.2,"y":1.1},{"i":2,"x":6.7,"y":1.33},
{"i":3,"x":8.1,"y":1.65},{"i":3,"x":9.2,"y":1.1},{"i":3,"x":10.1,"y":0.67},{"i":3,"x":10.75,"y":0.3},
{"i":4,"x":8.3,"y":1.26},{"i":4,"x":9.65,"y":0.78},{"i":4,"x":10.6,"y":0.39},
{"i":5,"x":8.5,"y":1.45},{"i":5,"x":9.5,"y":0.95},{"i":5,"x":10.4,"y":0.5},
{"i":6,"x":4.06,"y":1.0},{"i":6,"x":4.2,"y":1.43},{"i":6,"x":4.4,"y":0.96},{"i":6,"x":4.06,"y":1.0},
{"i":7,"x":5.26,"y":2.04},{"i":7,"x":6.2,"y":1.91},
{"i":8,"x":7.9,"y":2.3},{"i":8,"x":8.1,"y":2.75},
{"i":9,"x":16.3,"y":1.87},{"i":9,"x":16.9,"y":2.3},{"i":9,"x":18,"y":3.07},{"i":9,"x":18.4,"y":2.74},{"i":9,"x":18.75,"y":2.2},{"i":9,"x":19.3,"y":1.65},{"i":9,"x":19.95,"y":1.1},{"i":9,"x":20.1,"y":0.67},{"i":9,"x":19.6,"y":0.57},{"i":9,"x":19.1,"y":0.89},{"i":9,"x":18,"y":0.89},{"i":9,"x":17.1,"y":0.67},{"i":9,"x":16.45,"y":0.35},{"i":9,"x":16,"y":0.57},{"i":9,"x":16.2,"y":1.22},{"i":9,"x":16,"y":1.54},{"i":9,"x":16.3,"y":1.87},
{"i":10,"x":17.1,"y":1.54},{"i":10,"x":17.8,"y":1.98},{"i":10,"x":18.4,"y":1.87},{"i":10,"x":18.5,"y":1.33},{"i":10,"x":17.8,"y":1.17},{"i":10,"x":17.1,"y":1.33},{"i":10,"x":17.1,"y":1.54},
{"i":11,"x":17.4,"y":1.65},{"i":11,"x":18.1,"y":1.83},{"i":11,"x":18.2,"y":1.48},{"i":11,"x":17.5,"y":1.39},{"i":11,"x":17.4,"y":1.65},
{"i":12,"x":18.6,"y":1.43},{"i":12,"x":19.95,"y":0.78},{"i":12,"x":20.9,"y":0.02},
{"i":13,"x":16.1,"y":2.09},{"i":13,"x":16.55,"y":1.8},
{"i":14,"x":18.9,"y":2.65},{"i":14,"x":18.45,"y":2.35}
],
"e6":[
{"i":1,"x":15,"y":3.4},{"i":1,"x":14.9,"y":2.45},
{"i":2,"x":12.7,"y":2.1},{"i":2,"x":13.6,"y":1.25},
{"i":3,"x":13.0,"y":1.6},{"i":3,"x":13.8,"y":1.97},{"i":3,"x":14.9,"y":2.33},{"i":3,"x":15.5,"y":2.8},{"i":3,"x":15.9,"y":3.05},{"i":3,"x":16.1,"y":2.8},{"i":3,"x":16,"y":1.97},{"i":3,"x":15.65,"y":1.37},{"i":3,"x":15.4,"y":1.25},{"i":3,"x":14,"y":1.37},{"i":3,"x":13.6,"y":1.25},{"i":3,"x":13.0,"y":1.0},{"i":3,"x":12.9,"y":1.25},{"i":3,"x":13.0,"y":1.6},
{"i":4,"x":13.3,"y":0.77},{"i":4,"x":13.4,"y":0.3},{"i":4,"x":13.6,"y":0.17},{"i":4,"x":14.5,"y":0.17},{"i":4,"x":14.6,"y":0.29},{"i":4,"x":14.0,"y":0.45},{"i":4,"x":13.5,"y":0.6},
{"i":5,"x":15.8,"y":1.13},{"i":5,"x":15.8,"y":0.89},{"i":5,"x":16.7,"y":0.89},{"i":5,"x":17.0,"y":0.8},
{"i":6,"x":4.5,"y":-0.35},{"i":6,"x":5.4,"y":-0.1},
{"i":7,"x":13.2,"y":0.9},{"i":7,"x":13.5,"y":0.5},{"i":7,"x":14.2,"y":0.35},{"i":7,"x":14.8,"y":0.35}
],
"e7":[
{"i":1,"x":5.65,"y":0.31},{"i":1,"x":6.2,"y":0.79},{"i":1,"x":7.07,"y":1.03},{"i":1,"x":7.5,"y":1.1},{"i":1,"x":8.1,"y":1.55},
{"i":2,"x":5.75,"y":0.15},{"i":2,"x":6.6,"y":0.7},{"i":2,"x":7.3,"y":0.9},
{"i":3,"x":8.8,"y":1.2},{"i":3,"x":10.1,"y":0.93},{"i":3,"x":11.4,"y":0.5},{"i":3,"x":12.7,"y":0.26},{"i":3,"x":13.0,"y":0.0},{"i":3,"x":12.0,"y":0.07},{"i":3,"x":10.5,"y":0.45},{"i":3,"x":9.3,"y":0.8},{"i":3,"x":8.8,"y":1.2},
{"i":4,"x":9.2,"y":0.95},{"i":4,"x":10.5,"y":0.65},{"i":4,"x":12.3,"y":0.2},
{"i":5,"x":9.67,"y":1.75},{"i":5,"x":10.1,"y":1.87},{"i":5,"x":10.5,"y":1.63},{"i":5,"x":10.1,"y":1.51},{"i":5,"x":9.67,"y":1.75},
{"i":6,"x":11,"y":2.25},{"i":6,"x":11.06,"y":2.2},
{"i":7,"x":11.6,"y":1.35},{"i":7,"x":11.9,"y":1.3},{"i":7,"x":11.8,"y":1.05},{"i":7,"x":11.6,"y":1.1},{"i":7,"x":11.6,"y":1.35},
{"i":8,"x":14.6,"y":0.07},{"i":8,"x":15.1,"y":0.43},{"i":8,"x":15.8,"y":0.67},{"i":8,"x":16.6,"y":0.91},{"i":8,"x":17.5,"y":1.1},
{"i":9,"x":14.8,"y":0.0},{"i":9,"x":15.5,"y":0.4},{"i":9,"x":16.3,"y":0.65},{"i":9,"x":17.2,"y":0.85},
{"i":10,"x":13.5,"y":0.95},{"i":10,"x":13.1,"y":0.15},
{"i":11,"x":8.1,"y":1.75},{"i":11,"x":8.3,"y":1.3}
],
"e8":[
{"i":1,"x":5.87,"y":0.24},{"i":1,"x":4.78,"y":0.24},{"i":1,"x":4.35,"y":0.6},{"i":1,"x":4.35,"y":1.2},{"i":1,"x":4.78,"y":1.68},{"i":1,"x":5.54,"y":1.87},{"i":1,"x":6.4,"y":1.8},{"i":1,"x":6.96,"y":1.44},{"i":1,"x":7.6,"y":1.27},{"i":1,"x":7.8,"y":1.03},{"i":1,"x":7.28,"y":0.96},{"i":1,"x":6.63,"y":1.2},{"i":1,"x":5.76,"y":1.44},{"i":1,"x":5.1,"y":1.37},{"i":1,"x":4.78,"y":0.96},{"i":1,"x":4.89,"y":0.48},{"i":1,"x":5.87,"y":0.36},
{"i":2,"x":4.55,"y":0.7},{"i":2,"x":4.6,"y":1.25},{"i":2,"x":5.0,"y":1.58},{"i":2,"x":5.8,"y":1.62},{"i":2,"x":6.6,"y":1.5},{"i":2,"x":7.3,"y":1.15},
{"i":3,"x":5.1,"y":2.4},{"i":3,"x":5.3,"y":1.87},
{"i":4,"x":7.9,"y":1.92},{"i":4,"x":7.6,"y":1.32},
{"i":5,"x":14.45,"y":-0.12},{"i":5,"x":15.1,"y":0.48},{"i":5,"x":15.8,"y":1.2},{"i":5,"x":16.4,"y":1.44},{"i":5,"x":17.5,"y":1.27},{"i":5,"x":17.07,"y":1.08},{"i":5,"x":16,"y":0.84},{"i":5,"x":15.3,"y":0.36},{"i":5,"x":14.45,"y":-0.12},
{"i":6,"x":16.1,"y":0.41},{"i":6,"x":17.5,"y":1.2},
{"i":7,"x":14.45,"y":1.2},{"i":7,"x":14.8,"y":0.6},
{"i":8,"x":16.95,"y":1.92},{"i":8,"x":16.6,"y":1.44}
],
"e9":[
{"i":1,"x":5.54,"y":1.59},{"i":1,"x":6.63,"y":2.46},{"i":1,"x":7.28,"y":2.57},{"i":1,"x":7.5,"y":2.13},{"i":1,"x":7.28,"y":1.7},{"i":1,"x":6.2,"y":0.93},{"i":1,"x":5.65,"y":0.72},{"i":1,"x":5.5,"y":1.09},{"i":1,"x":5.54,"y":1.59},
{"i":2,"x":5.98,"y":1.37},{"i":2,"x":6.85,"y":2.02},{"i":2,"x":7.17,"y":1.96},{"i":2,"x":7.07,"y":1.74},{"i":2,"x":6.2,"y":1.22},{"i":2,"x":5.98,"y":1.37},
{"i":3,"x":5.33,"y":2.3},{"i":3,"x":5.87,"y":1.8},
{"i":4,"x":7.85,"y":2.75},{"i":4,"x":7.4,"y":2.45},
{"i":5,"x":14.7,"y":1.37},{"i":5,"x":15.3,"y":1.74},{"i":5,"x":16.2,"y":2.02},{"i":5,"x":16.8,"y":2.24},{"i":5,"x":17.3,"y":2.39},{"i":5,"x":17.45,"y":2.02},{"i":5,"x":16.85,"y":1.26},{"i":5,"x":16.2,"y":0.93},{"i":5,"x":15.8,"y":0.61},{"i":5,"x":15.4,"y":0.57},{"i":5,"x":14.8,"y":0.83},{"i":5,"x":14.6,"y":1.04},{"i":5,"x":14.7,"y":1.37},
{"i":6,"x":14.85,"y":1.2},{"i":6,"x":15.8,"y":1.6},{"i":6,"x":16.85,"y":1.7},{"i":6,"x":17.1,"y":1.9},
{"i":7,"x":15.0,"y":1.0},{"i":7,"x":16.2,"y":1.3},{"i":7,"x":16.6,"y":1.2},
{"i":8,"x":14.2,"y":2.02},{"i":8,"x":14.8,"y":1.37},
{"i":9,"x":17.1,"y":2.67},{"i":9,"x":16.9,"y":2.4}
],
"lab":[
{"p":"c5","x":3.74,"y":1.3,"t":"30"},{"p":"c5","x":6.6,"y":0.1,"t":"40"},{"p":"c5","x":21.5,"y":1.37,"t":"40"},
{"p":"c6","x":2.9,"y":1.3,"t":"30"},{"p":"c6","x":4.3,"y":-0.2,"t":"40"},{"p":"c6","x":15.8,"y":-0.2,"t":"40"},
{"p":"c7","x":2.24,"y":1.72,"t":"30"},{"p":"c7","x":4.85,"y":-0.24,"t":"40"},{"p":"c7","x":14.3,"y":0.09,"t":"40"},
{"p":"c8","x":2.8,"y":1.5,"t":"30"},{"p":"c8","x":3.87,"y":-0.09,"t":"40"},{"p":"c8","x":13.9,"y":-0.02,"t":"40"},
{"p":"c9","x":4.17,"y":0.67,"t":"30"},{"p":"c9","x":6.46,"y":0.35,"t":"40"},{"p":"c9","x":16.07,"y":-0.04,"t":"40"},
{"p":"e5","x":5.6,"y":2.96,"t":"30"},{"p":"e5","x":8.0,"y":3.4,"t":"40"},{"p":"e5","x":15.6,"y":2.63,"t":"30"},{"p":"e5","x":19.5,"y":3.07,"t":"40"},
{"p":"e6","x":15.1,"y":4.0,"t":"30"},{"p":"e6","x":12.2,"y":2.45,"t":"40"},
{"p":"e7","x":8.0,"y":2.1,"t":"30"},{"p":"e7","x":13.8,"y":1.27,"t":"40"},
{"p":"e8","x":5.2,"y":2.88,"t":"30"},{"p":"e8","x":8.0,"y":2.4,"t":"40"},{"p":"e8","x":14.2,"y":1.68,"t":"30"},{"p":"e8","x":17.3,"y":2.52,"t":"40"},
{"p":"e9","x":4.9,"y":2.9,"t":"30"},{"p":"e9","x":8.26,"y":3.0,"t":"40"},{"p":"e9","x":14.0,"y":2.78,"t":"30"},{"p":"e9","x":17.4,"y":3.33,"t":"40"}
],
"tt":[
{"p":"c5","x":0.26,"y":-3.0,"t":"t/T= .5"},{"p":"c6","x":0.93,"y":-2.9,"t":"t/T= .6"},{"p":"c7","x":0.83,"y":-2.85,"t":"t/T= .7"},{"p":"c8","x":1.04,"y":-2.96,"t":"t/T= .8"},{"p":"c9","x":0.9,"y":-3.0,"t":"t/T= .9"},
{"p":"e5","x":-1.5,"y":-2.7,"t":"t/T= .5"},{"p":"e6","x":-1.45,"y":-2.6,"t":"t/T= .6"},{"p":"e7","x":-1.45,"y":-2.6,"t":"t/T= .7"},{"p":"e8","x":-1.45,"y":-2.6,"t":"t/T= .8"},{"p":"e9","x":-1.45,"y":-2.7,"t":"t/T= .9"}
]
}
}
